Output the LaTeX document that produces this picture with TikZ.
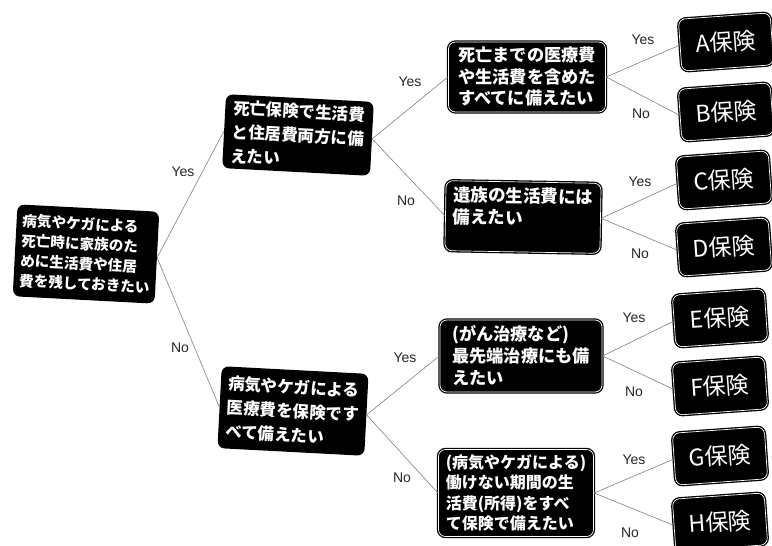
\documentclass[tikz,border=0pt]{standalone}
\usepackage{fontspec}
\newfontfamily\jp{Noto Sans CJK JP}
\newfontfamily\labfont{Liberation Sans}
\begin{document}
\begin{tikzpicture}[x=1pt,y=-1pt,
  box/.style={fill=black, rounded corners=7pt, text=white, align=left, inner sep=3pt,
    font=\jp\bfseries\fontsize{15}{20}\selectfont},
  wbox/.style={box, draw=black, double=white, double distance=0.7pt, line width=1.3pt},
  leaf/.style={wbox, font=\jp\fontsize{23}{24}\selectfont, minimum width=92pt, minimum height=52pt, rotate=4},
  lab/.style={font=\labfont\fontsize{14}{16}\selectfont, text=black!85, inner sep=1pt},
  link/.style={draw=black!50, line width=0.6pt}]
\useasboundingbox (0,0) rectangle (772,546);

% root
\node[box, minimum width=142pt, minimum height=92pt, rotate=-3, font=\jp\bfseries\fontsize{14.6}{20}\selectfont] (root) at (86,254)
  {病気やケガによる\\死亡時に家族のた\\めに生活費や住居\\費を残しておきたい};

% level 2
\node[box, minimum width=148pt, minimum height=74pt, rotate=-3, font=\jp\bfseries\fontsize{16.5}{24}\selectfont] (l2a) at (298,135)
  {死亡保険で生活費\\と住居費両方に備\\えたい};
\node[box, minimum width=147pt, minimum height=82pt, rotate=-3, font=\jp\bfseries\fontsize{16.5}{24}\selectfont] (l2b) at (293,411)
  {病気やケガによる\\医療費を保険です\\べて備えたい};

% level 3
\node[wbox, minimum width=157pt, minimum height=70pt, font=\jp\bfseries\fontsize{17.2}{21.5}\selectfont] (n1) at (527,77)
  {死亡までの医療費\\や生活費を含めた\\すべてに備えたい};
\node[wbox, minimum width=155pt, minimum height=70pt, rotate=-1, font=\jp\bfseries\fontsize{17.5}{22}\selectfont] (n2) at (523,217)
  {遺族の生活費には\\備えたい\\\mbox{}};
\node[wbox, minimum width=162pt, minimum height=72pt, font=\jp\bfseries\fontsize{17.2}{22}\selectfont] (n3) at (521,356)
  {(がん治療など)\\最先端治療にも備\\えたい};
\node[wbox, minimum width=155pt, minimum height=87pt, font=\jp\bfseries\fontsize{16}{20.5}\selectfont] (n4) at (516,493)
  {(病気やケガによる)\\働けない期間の生\\活費(所得)をすべ\\て保険で備えたい};

% leaves
\node[leaf] (a) at (726,42) {A保険};
\node[leaf] (b) at (726,112) {B保険};
\node[leaf] (c) at (724,180) {C保険};
\node[leaf] (d) at (724,247) {D保険};
\node[leaf] (e) at (720,318) {E保険};
\node[leaf] (f) at (720,386) {F保険};
\node[leaf] (g) at (720,456) {G保険};
\node[leaf] (h) at (720,522) {H保険};

% connectors
\draw[link] (root.east) -- (l2a.west);
\draw[link] (root.east) -- (l2b.west);
\draw[link] (l2a.east) -- (n1.west);
\draw[link] (l2a.east) -- (n2.west);
\draw[link] (l2b.east) -- (n3.west);
\draw[link] (l2b.east) -- (n4.west);
\draw[link] (n1.east) -- (a.west);
\draw[link] (n1.east) -- (b.west);
\draw[link] (n2.east) -- (c.west);
\draw[link] (n2.east) -- (d.west);
\draw[link] (n3.east) -- (e.west);
\draw[link] (n3.east) -- (f.west);
\draw[link] (n4.east) -- (g.west);
\draw[link] (n4.east) -- (h.west);

% labels
\node[lab] (y1) at (183,172) {Yes};
\node[lab] (o1) at (180,348) {No};
\node[lab] (y2) at (410,82) {Yes};
\node[lab] (o2) at (406,201) {No};
\node[lab] (y3) at (405,358) {Yes};
\node[lab] (o3) at (402,478) {No};
\node[lab] (ya) at (643,40) {Yes};
\node[lab] (ob) at (641,114) {No};
\node[lab] (yc) at (640,182) {Yes};
\node[lab] (od) at (640,254) {No};
\node[lab] (ye) at (634,318) {Yes};
\node[lab] (of) at (634,392) {No};
\node[lab] (yg) at (634,460) {Yes};
\node[lab] (oh) at (630,533) {No};
\end{tikzpicture}
\end{document}
